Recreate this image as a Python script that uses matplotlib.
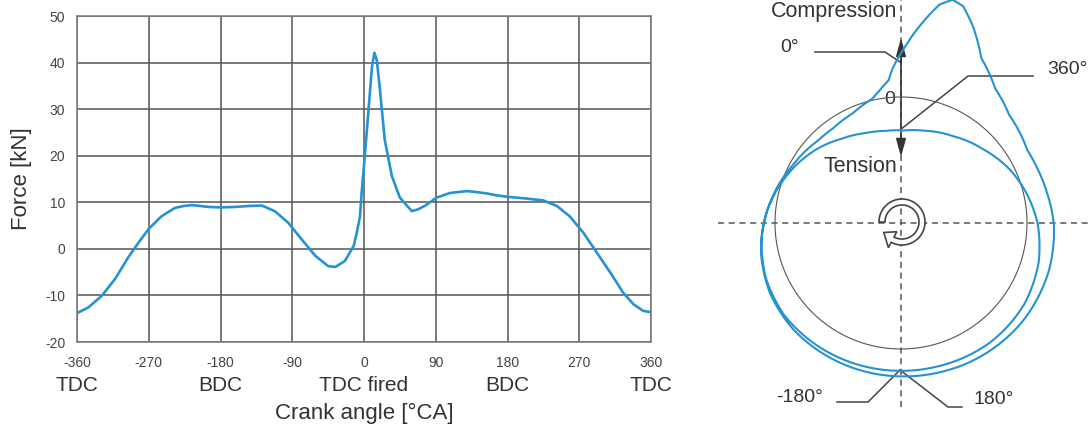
import numpy as np
import matplotlib
matplotlib.use('Agg')
import matplotlib.pyplot as plt
from matplotlib.patches import Polygon

plt.rcParams['font.family'] = ['Liberation Sans', 'DejaVu Sans']
plt.rcParams['axes.unicode_minus'] = False

# crank angle [deg] and con-rod force [kN]
crank_angle = [-360, -346, -329, -312, -296, -283, -270, -254, -237, -226,
               -216, -205, -195, -180, -162, -145, -128, -112, -95, -78,
               -61, -45, -36, -24, -13, -9, -5, -3, 1, 6,
               10, 13, 16, 20, 26, 35, 45, 60, 68, 77,
               91, 108, 129, 141, 154, 166, 179, 191, 204, 214,
               225, 242, 258, 275, 292, 309, 325, 338, 350, 360]
force = [-13.8, -12.6, -10.1, -6.4, -1.9, 1.3, 4.3, 7.0, 8.8, 9.2,
         9.4, 9.2, 9.0, 8.9, 9.0, 9.2, 9.3, 8.1, 5.6, 2.0,
         -1.5, -3.7, -3.9, -2.6, 0.6, 3.5, 7.0, 12.0, 19.9, 30.6,
         39.1, 42.1, 40.6, 34.2, 23.4, 15.6, 11.0, 8.1, 8.5, 9.3,
         11.0, 12.0, 12.4, 12.2, 11.9, 11.5, 11.2, 11.0, 10.8, 10.6,
         10.4, 9.2, 7.0, 3.5, -0.8, -5.1, -9.4, -11.9, -13.3, -13.6]

x_ticks = [-360, -270, -180, -90, 0, 90, 180, 270, 360]
y_ticks = [-20, -10, 0, 10, 20, 30, 40, 50]
stroke_pos = [-360, -180, 0, 180, 360]
stroke_labels = ['TDC', 'BDC', 'TDC fired', 'BDC', 'TDC']

# polar diagram: zero-force circle radius and scale (px per kN)
r_zero = 126
r_scale = 2.45

blue = '#2592d2'
grey = '#555555'
txt = '#333333'

fig = plt.figure(figsize=(10.89, 4.30), dpi=100)

# ---- left: force vs crank angle
ax = fig.add_axes([77 / 1089, 88 / 430, 574 / 1089, 326 / 430])
ax.plot(crank_angle, force, color=blue, lw=1.9)
ax.set_xlim(-360, 360)
ax.set_ylim(-20, 50)
ax.set_xticks(x_ticks)
ax.set_yticks(y_ticks)
ax.grid(True, color=grey, lw=1.1)
ax.set_axisbelow(True)
for s in ax.spines.values():
    s.set_color('#777777')
    s.set_linewidth(1.1)
ax.tick_params(length=0, labelsize=10, colors='#444444')
ax.tick_params(axis='x', pad=10)
ax.tick_params(axis='y', pad=8.5)

for xp, lab in zip(stroke_pos, stroke_labels):
    ax.text(xp, -0.132, lab, transform=ax.get_xaxis_transform(),
            ha='center', va='center', fontsize=15, color=txt)

ax.set_xlabel('Crank angle [°CA]', fontsize=16, color=txt)
ax.xaxis.set_label_coords(0.5, -0.187)
ax.set_ylabel('Force [kN]', fontsize=16, color=txt)
ax.yaxis.set_label_coords(-0.078, 0.5)

# ---- right: annotations (1 unit = 1 px, centre of crank at 0,0)
axr = fig.add_axes([700 / 1089, 0, 389 / 1089, 1])
axr.set_xlim(-201, 188)
axr.set_ylim(-207, 223)
axr.axis('off')

dash = (0, (4, 3))
axr.plot([-183, 188], [0, 0], color=grey, lw=1.1, ls=dash)
axr.plot([0, 0], [-184, 223], color=grey, lw=1.1, ls=dash)

axr.annotate('', xy=(0, 185), xytext=(0, 66),
             arrowprops=dict(arrowstyle='<|-|>,head_length=1.1,head_width=0.3',
                             color='#333333', lw=1.2, shrinkA=0, shrinkB=0))

axr.text(-4, 211, 'Compression', ha='right', va='center', fontsize=15.5, color=txt)
axr.text(-4, 56, 'Tension', ha='right', va='center', fontsize=15.5, color=txt)
axr.text(-11, 123, '0', ha='center', va='center', fontsize=14, color=txt)
axr.text(-111, 176, '0°', ha='center', va='center', fontsize=14, color=txt)
axr.text(166, 153, '360°', ha='center', va='center', fontsize=14, color=txt)
axr.text(-101, -174, '-180°', ha='center', va='center', fontsize=14, color=txt)
axr.text(93, -177, '180°', ha='center', va='center', fontsize=14, color=txt)

lead = dict(color='#444444', lw=1.1)
axr.plot([-86, -16, -1], [171, 171, 161], **lead)
axr.plot([132, 67, -1], [147, 147, 93], **lead)
axr.plot([-64, -33, -1], [-179, -179, -147], **lead)
axr.plot([-1, 47, 61], [-147, -184, -184], **lead)

# rotation symbol
cx, cy = 1, 1
ro, ri = 23, 17
a = np.radians(np.linspace(180, -118, 80))
outer = np.column_stack([cx + ro * np.cos(a), cy + ro * np.sin(a)])
inner = np.column_stack([cx + ri * np.cos(a[::-1]), cy + ri * np.sin(a[::-1])])
ab, at = np.radians(-118), np.radians(-150)
head = np.array([[cx + 29 * np.cos(ab), cy + 29 * np.sin(ab)],
                 [cx + 21 * np.cos(at), cy + 21 * np.sin(at)],
                 [cx + 11 * np.cos(ab), cy + 11 * np.sin(ab)]])
axr.add_patch(Polygon(np.vstack([outer, head, inner]), closed=True,
                      fc='white', ec='#444444', lw=1.2, zorder=5))

# ---- polar load curve, centred on the crank (radius 230 px)
axp = fig.add_axes([671 / 1089, -23 / 430, 460 / 1089, 460 / 430],
                   projection='polar')
axp.set_theta_zero_location('N')
axp.set_theta_direction(-1)
axp.set_ylim(0, 230)
axp.set_facecolor('none')
axp.axis('off')

t = np.linspace(0, 2 * np.pi, 361)
axp.plot(t, np.full_like(t, r_zero), color=grey, lw=0.8)
load, = axp.plot(np.radians(crank_angle), r_zero + r_scale * np.array(force),
                 color=blue, lw=1.5)
# let the polar transform draw each segment as a curve, not a chord
load.get_path()._interpolation_steps = 30

fig.savefig('out.png', dpi=100)
